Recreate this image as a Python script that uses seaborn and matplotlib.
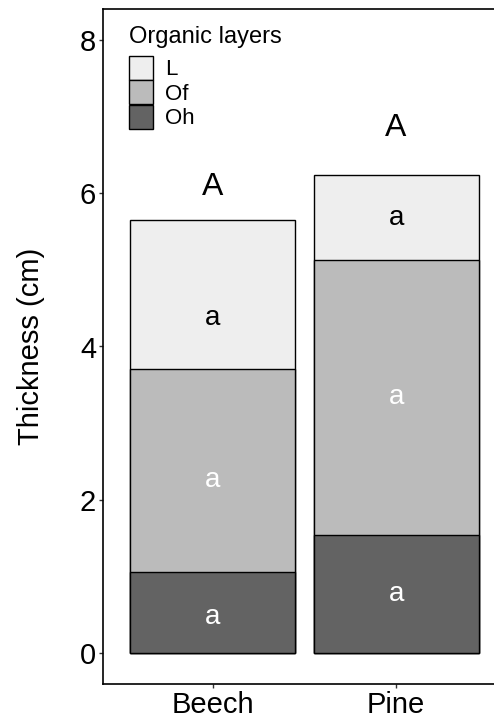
import matplotlib
matplotlib.use("Agg")
import matplotlib.pyplot as plt
import seaborn as sns
import pandas as pd
import numpy as np
from matplotlib.patches import Patch

sns.set_theme(style="white")
plt.rcParams['font.family'] = ['Liberation Sans', 'DejaVu Sans']
plt.rcParams['text.color'] = 'black'

sites = ["Beech", "Pine"]
layers = ["L", "Of", "Oh"]
oh = [1.06, 1.54]
of = [2.65, 3.59]
lit = [1.94, 1.11]
layer_colors = {"L": "#EEEEEE", "Of": "#BBBBBB", "Oh": "#636363"}

# letter annotations (positions)
seg_letters = ["a", "a", "a"]
seg_label_y = {"Beech": [4.37, 2.26, 0.47], "Pine": [5.68, 3.34, 0.77]}
seg_label_colors = ["black", "white", "white"]
top_letters = ["A", "A"]
top_letter_y = [6.08, 6.85]

df = pd.DataFrame({"site": sites, "Oh": oh, "Of": of, "L": lit})
df["cum_Oh"] = df["Oh"]
df["cum_Of"] = df["Oh"] + df["Of"]
df["cum_L"] = df["cum_Of"] + df["L"]

W, H = 494, 719
fig = plt.figure(figsize=(W / 100, H / 100), dpi=100)
ax_left, ax_right, ax_top, ax_bottom = 103, 506, 9, 684
ax = fig.add_axes([ax_left / W, 1 - ax_bottom / H, (ax_right - ax_left) / W, (ax_bottom - ax_top) / H])

for layer in ["L", "Of", "Oh"]:
    sns.barplot(data=df, x="site", y="cum_" + layer, order=sites, color=layer_colors[layer],
                width=0.9, edgecolor="black", linewidth=1.0, saturation=1, ax=ax, zorder=2)

for i, s in enumerate(sites):
    for j, lay in enumerate(layers):
        ax.text(i, seg_label_y[s][j], seg_letters[j], ha="center", va="center",
                fontsize=20, color=seg_label_colors[j], zorder=5)
    ax.text(i, top_letter_y[i], top_letters[i], ha="center", va="center",
            fontsize=23, color="black", zorder=5)

ax.set_xlim(-0.6, 1.6)
ax.set_ylim(-0.4, 8.4)
ax.set_yticks([0, 2, 4, 6, 8])
ax.set_xlabel("")
ax.set_ylabel("Thickness (cm)", fontsize=21, color="black")
ax.yaxis.set_label_coords(-0.145, 0.5)
ax.tick_params(axis="both", labelsize=21, length=3, width=1, color="#333333",
               labelcolor="black", pad=2, left=True, bottom=True)
for sp in ax.spines.values():
    sp.set_color("black")
    sp.set_linewidth(1.2)
    sp.set_visible(True)

handles = [Patch(facecolor=layer_colors[l], edgecolor="black", linewidth=1.0, label=l) for l in layers]
leg = ax.legend(handles=handles, title="Organic layers", loc="upper left",
                bbox_to_anchor=(113 / W, 1 - 10 / H), bbox_transform=fig.transFigure,
                frameon=False, fontsize=16, title_fontsize=17, handlelength=1.08,
                handleheight=1.28, labelspacing=0.0, handletextpad=0.55, borderpad=0.2)
leg._legend_box.align = "left"
leg._legend_box.sep = 6
for t in leg.get_texts():
    t.set_color("black")
leg.get_title().set_color("black")

fig.savefig("out.png", dpi=100)
